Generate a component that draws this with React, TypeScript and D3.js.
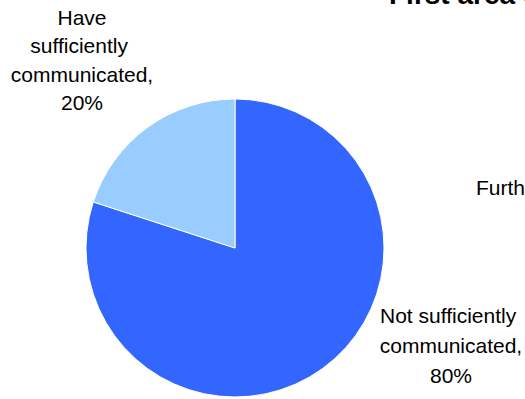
import React from "react";
import * as d3 from "d3";

const categories = ["Not sufficiently communicated", "Have sufficiently communicated"];
const values = [80, 20];
const labelLines = [
  ["Not sufficiently ", "communicated,", "80%"],
  ["Have", "sufficiently ", "communicated,", "20%"],
];
const colors = ["#3366FF", "#99CCFF"];
const titleText = "First area of concern";
const sideText = "Further";

const W = 525;
const H = 399;
const cx = 235;
const cy = 248;
const R = 149;
const labelPos = [
  { x: 451, y: 323, lh: 30 },
  { x: 82, y: 25, lh: 28.3 },
];

export default function App() {
  const pie = d3
    .pie<number>()
    .sort(null)
    .value((d) => d)
    .startAngle(0)
    .endAngle(2 * Math.PI);
  const arcs = pie(values);
  const arc = d3.arc<d3.PieArcDatum<number>>().innerRadius(0).outerRadius(R);
  return (
    <svg
      width={W}
      height={H}
      style={{ position: "fixed", left: 0, top: 0, background: "#fff" }}
      fontFamily="Liberation Sans, Arial, sans-serif"
    >
      <rect width={W} height={H} fill="#fff" />
      <g transform={`translate(${cx},${cy})`}>
        {arcs.map((a, i) => (
          <path key={categories[i]} d={arc(a) || ""} fill={colors[i]} stroke="#fff" strokeWidth={1} />
        ))}
      </g>
      {labelLines.map((lines, i) => (
        <text key={i} textAnchor="middle" fontSize={21} fill="#000" style={{ whiteSpace: "pre" }}>
          {lines.map((l, j) => (
            <tspan key={j} x={labelPos[i].x} y={labelPos[i].y + j * labelPos[i].lh}>
              {l}
            </tspan>
          ))}
        </text>
      ))}
      <text x={389} y={4} fontSize={28} fontWeight="bold" fill="#000">
        {titleText}
      </text>
      <text x={476} y={195} fontSize={21} fill="#000">
        {sideText}
      </text>
    </svg>
  );
}
